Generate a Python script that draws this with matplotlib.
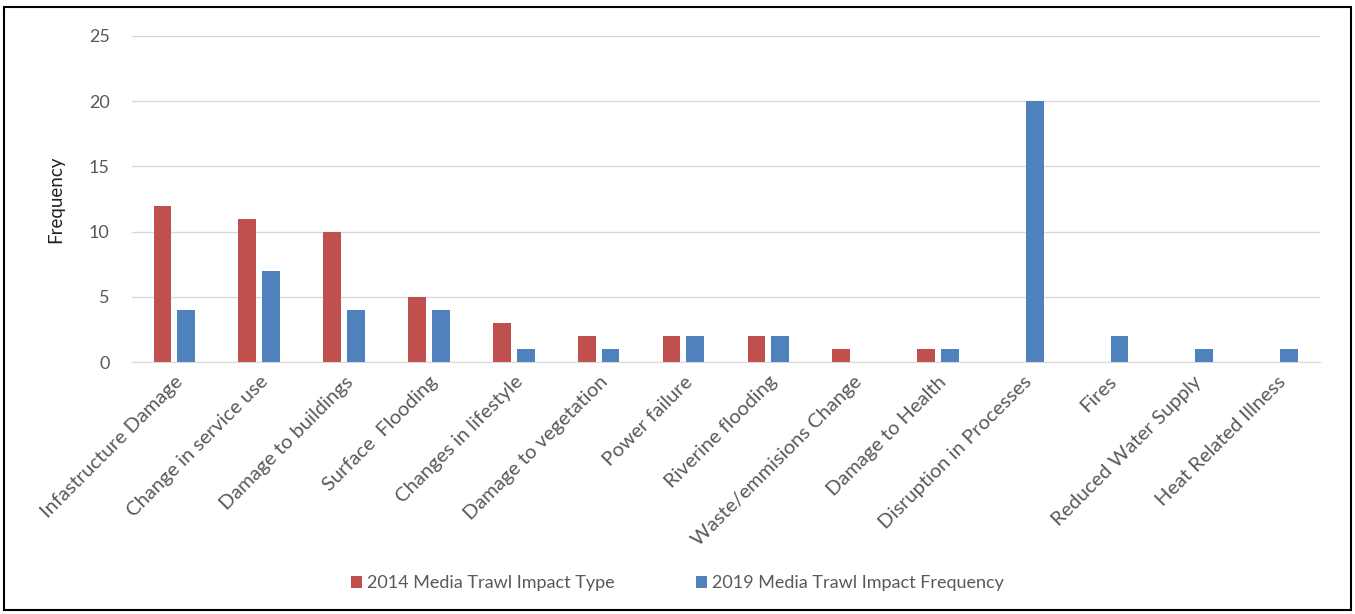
import numpy as np
import matplotlib
matplotlib.use("Agg")
import matplotlib.pyplot as plt
from matplotlib.patches import Rectangle

categories = [
    "Infastructure Damage", "Change in service use", "Damage to buildings",
    "Surface  Flooding", "Changes in lifestyle", "Damage to vegetation",
    "Power failure", "Riverine flooding", "Waste/emmisions Change",
    "Damage to Health", "Disruption in Processes", "Fires",
    "Reduced Water Supply", "Heat Related Illness",
]
impact_2014 = [12, 11, 10, 5, 3, 2, 2, 2, 1, 1, 0, 0, 0, 0]
impact_2019 = [4, 7, 4, 4, 1, 1, 2, 2, 0, 1, 20, 2, 1, 1]

RED = "#C0504D"
BLUE = "#4F81BD"
TXT = "#595959"

plt.rcParams["font.family"] = ["Lato", "DejaVu Sans"]

fig = plt.figure(figsize=(13.55, 6.14), dpi=100)
ax = fig.add_axes([0.0974, 0.4104, 0.8766, 0.531])

x = np.arange(len(categories))
w = 0.21
ax.bar(x - 0.14, impact_2014, w, color=RED, label="2014 Media Trawl Impact Type")
ax.bar(x + 0.14, impact_2019, w, color=BLUE, label="2019 Media Trawl Impact Frequency")

ax.set_xlim(-0.5, len(categories) - 0.5)
ax.set_ylim(0, 25)
ax.set_yticks(range(0, 26, 5))
ax.yaxis.grid(True, color="#D9D9D9", lw=1)
ax.set_axisbelow(True)
for s in ("top", "right", "left"):
    ax.spines[s].set_visible(False)
ax.spines["bottom"].set_color("#D9D9D9")
ax.tick_params(axis="both", length=0, colors=TXT)
ax.tick_params(axis="y", pad=16, labelsize=13)
ax.tick_params(axis="x", pad=8, labelsize=14.5)
ax.set_xticks(x)
ax.set_xticklabels(categories, rotation=45, ha="right", rotation_mode="anchor")
ax.set_ylabel("Frequency", color="#222222", fontsize=13.5, labelpad=18)

fig.legend(loc="center", bbox_to_anchor=(0.5, 0.05), ncol=2, frameon=False,
           fontsize=13, labelcolor=TXT, handlelength=0.6, handleheight=0.6,
           columnspacing=4.5, handletextpad=0.3)

fig.patches.append(Rectangle((0.003, 0.006), 0.994, 0.982, transform=fig.transFigure,
                             fill=False, edgecolor="black", lw=1.5))

fig.savefig("out.png", dpi=100)
